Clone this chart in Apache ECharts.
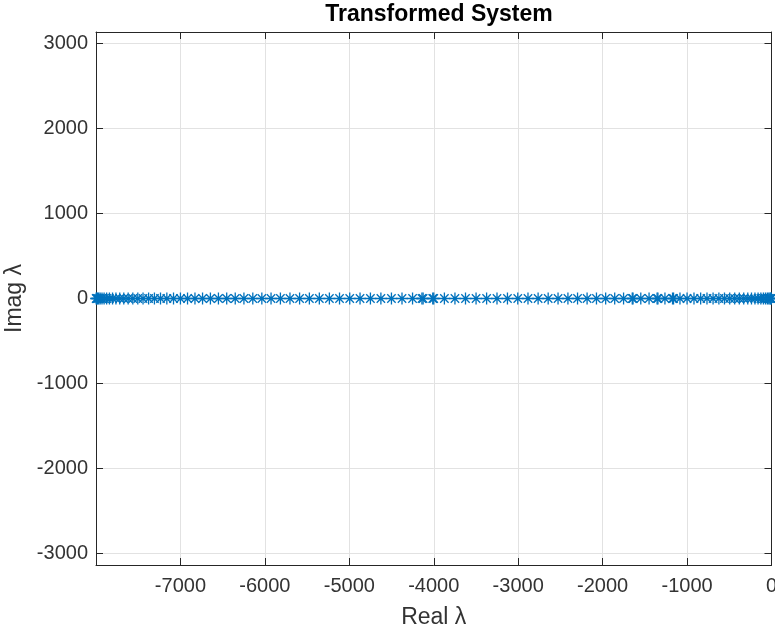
<!DOCTYPE html>
<html>
<head>
<meta charset="utf-8">
<title>Transformed System</title>
<script src="https://cdn.jsdelivr.net/npm/echarts@6/dist/echarts.min.js"></script>
<style>
  html, body { margin: 0; padding: 0; background: #ffffff; }
  #chart { width: 775px; height: 633px; }
</style>
</head>
<body>
<div id="chart"></div>
<script>
// Eigenvalues of the transformed system (real and imaginary parts)
const realParts = [
  -2, -8, -18, -32, -49, -71, -96, -126, -159, -196,
  -237, -281, -329, -381, -436, -495, -557, -623, -692, -764,
  -839, -918, -1000, -1084, -1160, -1172, -1262, -1345, -1355, -1450,
  -1548, -1640, -1649, -1752, -1857, -1964, -2073, -2184, -2297, -2411,
  -2528, -2645, -2764, -2884, -3005, -3127, -3251, -3374, -3499, -3624,
  -3749, -3874, -4000, -4012, -4126, -4140, -4251, -4376, -4501, -4626,
  -4750, -4873, -4995, -5116, -5236, -5355, -5473, -5589, -5703, -5816,
  -5927, -6036, -6143, -6248, -6351, -6452, -6550, -6645, -6738, -6828,
  -6916, -7000, -7082, -7161, -7236, -7308, -7377, -7443, -7505, -7564,
  -7619, -7671, -7719, -7764, -7804, -7841, -7874, -7904, -7929, -7951,
  -7968, -7982, -7992, -7998
];
const imagParts = [
  0, 0, 0, 0, 0, 0, 0, 0, 0, 0,
  0, 0, 0, 0, 0, 0, 0, 0, 0, 0,
  0, 0, 0, 0, 0, 0, 0, 0, 0, 0,
  0, 0, 0, 0, 0, 0, 0, 0, 0, 0,
  0, 0, 0, 0, 0, 0, 0, 0, 0, 0,
  0, 0, 0, 0, 0, 0, 0, 0, 0, 0,
  0, 0, 0, 0, 0, 0, 0, 0, 0, 0,
  0, 0, 0, 0, 0, 0, 0, 0, 0, 0,
  0, 0, 0, 0, 0, 0, 0, 0, 0, 0,
  0, 0, 0, 0, 0, 0, 0, 0, 0, 0,
  0, 0, 0, 0
];

// Axis limits and tick settings
const realRange = [-8000, 0];
const realStep = 1000;
const imagRange = [-3137, 3137];

const points = realParts.map((re, i) => [re, imagParts[i]]);

const FONT = '"Liberation Sans", Arial, Helvetica, sans-serif';
const INK = '#262626';
const LABEL = '#333333';
const GRID = '#e2e2e2';
const BLUE = '#0072BD';

// Eight-armed asterisk marker
const asterisk = 'path://M5 0 L5 10 M0 5 L10 5 M1.5 1.5 L8.5 8.5 M1.5 8.5 L8.5 1.5';

const plainNumber = (v) => String(Math.round(v));

const axisLineStyle = { show: true, onZero: false, lineStyle: { color: INK, width: 1 } };
const innerTicks = { show: true, inside: true, length: 7, lineStyle: { color: INK, width: 1 } };

const chart = echarts.init(document.getElementById('chart'), null, { renderer: 'canvas' });

chart.setOption({
  animation: false,
  backgroundColor: '#ffffff',
  title: {
    text: 'Transformed System',
    left: 434,
    textAlign: 'center',
    top: -2,
    textStyle: { fontFamily: FONT, fontSize: 23, fontWeight: 'bold', color: '#000000' }
  },
  grid: {
    left: 96, right: 3.5, top: 32, bottom: 68,
    containLabel: false,
    outerBoundsMode: 'none'
  },
  xAxis: [
    {
      type: 'value',
      position: 'bottom',
      min: realRange[0],
      max: realRange[1],
      interval: realStep,
      name: 'Real λ',
      nameLocation: 'middle',
      nameGap: 41,
      nameTextStyle: { fontFamily: FONT, fontSize: 23, color: LABEL },
      axisLine: axisLineStyle,
      axisTick: innerTicks,
      axisLabel: {
        showMinLabel: false,
        margin: 11,
        formatter: plainNumber,
        fontFamily: FONT, fontSize: 20, color: LABEL
      },
      splitLine: { show: true, lineStyle: { color: GRID, width: 1 } }
    },
    {
      type: 'value',
      position: 'top',
      min: realRange[0],
      max: realRange[1],
      interval: realStep,
      axisLine: axisLineStyle,
      axisTick: innerTicks,
      axisLabel: { show: false },
      splitLine: { show: false }
    }
  ],
  yAxis: [
    {
      type: 'value',
      position: 'left',
      min: imagRange[0],
      max: imagRange[1],
      splitNumber: 6,
      name: 'Imag λ',
      nameLocation: 'middle',
      nameGap: 65,
      nameTextStyle: { fontFamily: FONT, fontSize: 23, color: LABEL },
      axisLine: axisLineStyle,
      axisTick: innerTicks,
      axisLabel: {
        showMinLabel: false,
        showMaxLabel: false,
        margin: 8,
        formatter: plainNumber,
        fontFamily: FONT, fontSize: 20, color: LABEL
      },
      splitLine: { show: true, lineStyle: { color: GRID, width: 1 } }
    },
    {
      type: 'value',
      position: 'right',
      min: imagRange[0],
      max: imagRange[1],
      splitNumber: 6,
      axisLine: axisLineStyle,
      axisTick: innerTicks,
      axisLabel: { show: false },
      splitLine: { show: false }
    }
  ],
  series: [
    {
      type: 'scatter',
      xAxisIndex: 0,
      yAxisIndex: 0,
      data: points,
      symbol: asterisk,
      symbolSize: 12,
      clip: false,
      itemStyle: { color: 'rgba(0,0,0,0)', borderColor: BLUE, borderWidth: 1.3, opacity: 1 },
      emphasis: { disabled: true }
    }
  ]
});
</script>
</body>
</html>
